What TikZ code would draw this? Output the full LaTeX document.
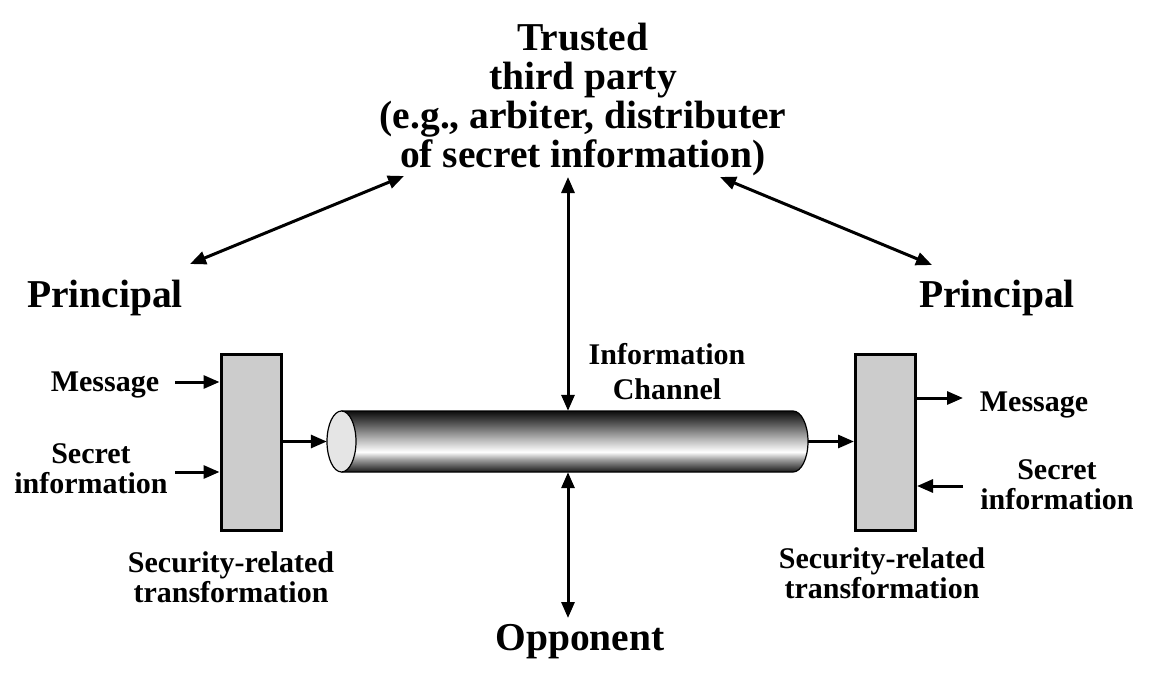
\documentclass[tikz,border=0pt]{standalone}
\usepackage{fontspec}
\setmainfont{Liberation Serif}
\usetikzlibrary{arrows.meta}
\pgfdeclareverticalshading{cylshade}{100bp}{color(0bp)=(black!90); color(25bp)=(black!90); color(29bp)=(black!70); color(35bp)=(black!40); color(41.5bp)=(white); color(52.5bp)=(black!30); color(66bp)=(black!70); color(75bp)=(black!95); color(100bp)=(black!95)}
\begin{document}
\begin{tikzpicture}[x=1pt,y=-1pt,
  big/.style={font=\bfseries\fontsize{39.5}{39}\selectfont, align=center, inner sep=0pt},
  small/.style={font=\bfseries\fontsize{30}{30}\selectfont, align=center, inner sep=0pt},
  arr/.style={line width=3pt, -{Triangle[length=16pt,width=13pt]}},
  darr/.style={line width=3pt, {Triangle[length=16pt,width=13pt]}-{Triangle[length=16pt,width=13pt]}},
  tbox/.style={draw, line width=3pt, fill=black!20, minimum width=60pt, minimum height=176pt, inner sep=0pt}]
\useasboundingbox (0,0) rectangle (1160,675);

% texts
\node[big, anchor=north] (ttp) at (583,23) {Trusted\\third party\\(e.g., arbiter, distributer\\of secret information)};
\node[big, anchor=base] (pl) at (105,307) {Principal};
\node[big, anchor=base] (pr) at (997,307) {Principal};
\node[big, anchor=base] (opp) at (580,650) {Opponent};
\node[small, anchor=base] (msgl) at (105,391) {Message};
\node[small] (secl) at (91,469) {Secret\\information};
\node[small] (srl) at (231,577) {Security-related\\transformation};
\node[small, anchor=base] (msgr) at (1034,411) {Message};
\node[small] (secr) at (1057,485) {Secret\\information};
\node[small] (srr) at (882,573) {Security-related\\transformation};
\node[small] (ich) at (667,372) {Information\\[5pt]Channel};

% boxes
\node[tbox] (bl) at (251,442) {};
\node[tbox] (br) at (885.5,442) {};

% channel (cylinder)
\node[minimum width=481pt, minimum height=61pt, inner sep=0pt] (chan) at (567.5,441.5) {};
\shade[shading=cylshade, draw, line width=1.2pt] (342,411) -- (793,411)
  .. controls (801.3,411) and (808,424.7) .. (808,441.5)
  .. controls (808,458.3) and (801.3,472) .. (793,472) -- (342,472) -- cycle;
\draw[fill=black!10, line width=1.2pt] (341.5,441.5) ellipse [x radius=14.5pt, y radius=30.5pt];

% connectors
\coordinate (m1) at (175,382);
\coordinate (s1) at (175,472);
\coordinate (m2) at (963,398);
\coordinate (s2) at (963,486);
\draw[arr] (m1) -- (m1 -| bl.west);
\draw[arr] (s1) -- (s1 -| bl.west);
\draw[arr] (bl.east |- chan.west) -- (chan.west);
\draw[arr] (chan.east) -- (br.west |- chan.east);
\draw[arr] (m2 -| br.east) -- (m2);
\draw[arr] (s2) -- (s2 -| br.east);

\coordinate (v1) at (568,177);
\coordinate (v2) at (568,618);
\draw[darr] (v1) -- (v1 |- chan.north);
\draw[darr] (v2 |- chan.south) -- (v2);

\coordinate (pl1) at (190,264);
\coordinate (t1) at (404,176);
\coordinate (t2) at (720,177);
\coordinate (pr1) at (932,265);
\draw[darr] (pl1) -- (t1);
\draw[darr] (t2) -- (pr1);
\end{tikzpicture}
\end{document}
